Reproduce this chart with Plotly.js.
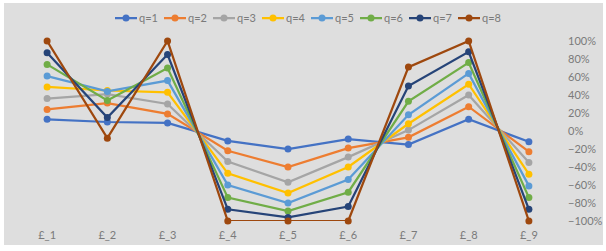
<!DOCTYPE html>
<html>
<head>
<meta charset="utf-8">
<script src="https://cdn.plot.ly/plotly-3.0.1.min.js"></script>
<style>
html,body{margin:0;padding:0;background:#ffffff;}
#chart{position:absolute;left:4px;top:3px;width:599px;height:242px;box-sizing:border-box;border-right:1px solid #cfcfcf;border-bottom:1px solid #cfcfcf;}
</style>
</head>
<body>
<div id="chart"></div>
<script>
const categories = ["£_1","£_2","£_3","£_4","£_5","£_6","£_7","£_8","£_9"];
const seriesNames = ["q=1","q=2","q=3","q=4","q=5","q=6","q=7","q=8"];
const q1 = [0.13, 0.10, 0.09, -0.11, -0.20, -0.09, -0.15, 0.13, -0.12];
const q2 = [0.24, 0.31, 0.19, -0.22, -0.40, -0.19, -0.07, 0.27, -0.23];
const q3 = [0.36, 0.41, 0.30, -0.34, -0.57, -0.29, 0.01, 0.40, -0.35];
const q4 = [0.49, 0.45, 0.43, -0.47, -0.69, -0.40, 0.08, 0.52, -0.48];
const q5 = [0.61, 0.44, 0.56, -0.60, -0.80, -0.54, 0.18, 0.64, -0.61];
const q6 = [0.74, 0.34, 0.70, -0.74, -0.89, -0.68, 0.33, 0.76, -0.74];
const q7 = [0.87, 0.15, 0.85, -0.87, -0.96, -0.84, 0.50, 0.88, -0.87];
const q8 = [1.00, -0.08, 1.00, -1.00, -1.00, -1.00, 0.71, 1.00, -1.00];
const allSeries = [q1,q2,q3,q4,q5,q6,q7,q8];
const colors = ["#4472C4","#ED7D31","#A5A5A5","#FFC000","#5B9BD5","#70AD47","#264478","#9E480E"];

const traces = allSeries.map((vals,i)=>({
  type:'scatter', mode:'lines+markers',
  x: categories, y: vals, name: seriesNames[i],
  line:{color:colors[i], width:2.25},
  marker:{color:colors[i], size:7},
  cliponaxis:false
}));

const layout = {
  width:599, height:242,
  margin:{l:13, r:44, t:38, b:24, autoexpand:false},
  paper_bgcolor:'#dedede', plot_bgcolor:'#dedede',
  font:{family:'Lato, "Open Sans", sans-serif', size:11, color:'#7a7a7a'},
  showlegend:true,
  legend:{orientation:'h', x:0.54, xanchor:'center', y:1.13, yanchor:'middle',
          bgcolor:'rgba(0,0,0,0)', font:{size:11, color:'#7a7a7a'}, itemwidth:30, entrywidth:20},
  xaxis:{type:'category', range:[-0.5,8.5], showgrid:false, zeroline:false, showline:false,
         automargin:false, ticks:'', ticklabelstandoff:6, tickfont:{size:11, color:'#7a7a7a'}},
  yaxis:{side:'right', range:[-1,1], tickvals:[-1,-0.8,-0.6,-0.4,-0.2,0,0.2,0.4,0.6,0.8,1],
         tickformat:'.0%', showgrid:false, zeroline:false, showline:false, ticks:'', automargin:false,
         ticklabelstandoff:8, tickfont:{size:11, color:'#7a7a7a'}}
};
Plotly.newPlot('chart', traces, layout, {displayModeBar:false, staticPlot:true}).then(gd=>{
  // compact the legend entries (shorter line samples, tighter spacing)
  const step = 49;
  const legendG = gd.querySelector('g.legend');
  const items = legendG.querySelectorAll('g.traces');
  const re = /translate\(\s*([-\d.e]+)[\s,]*([-\d.e]+)?\s*\)/;
  items.forEach((g,i)=>{
    const m = re.exec(g.getAttribute('transform')||'');
    const ty = m && m[2] ? parseFloat(m[2]) : 0;
    g.setAttribute('transform','translate('+(i*step)+','+ty+')');
    g.querySelectorAll('.legendlines path').forEach(p=>p.setAttribute('d','M13,0h22'));
    g.querySelectorAll('.legendpoints path.scatterpts').forEach(p=>p.setAttribute('transform','translate(24,0)'));
    g.querySelectorAll('text.legendtext').forEach(t=>t.setAttribute('x','37'));
  });
  const lm = re.exec(legendG.getAttribute('transform')||'');
  let ly = lm && lm[2] ? parseFloat(lm[2]) : 0;
  legendG.setAttribute('transform','translate(98,'+ly+')');
  // vertically centre the legend row on the target line
  const divTop = gd.getBoundingClientRect().top;
  const pts = legendG.querySelector('.legendlines path');
  if (pts) {
    const r = pts.getBoundingClientRect();
    const cy = (r.top + r.bottom)/2 - divTop;
    ly += (15 - cy);
    legendG.setAttribute('transform','translate(98,'+ly+')');
  }
});
</script>
</body>
</html>
